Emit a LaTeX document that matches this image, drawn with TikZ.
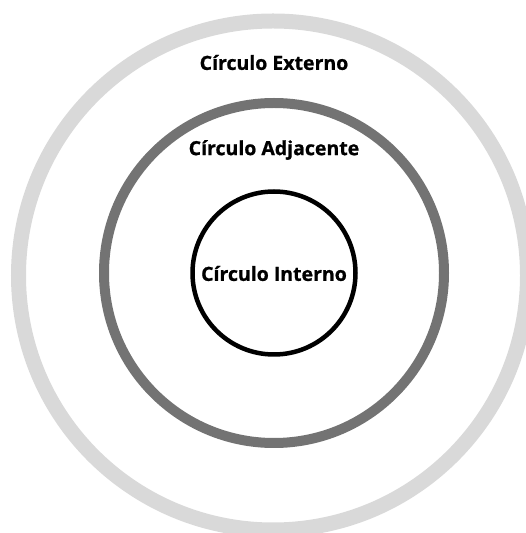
\documentclass[tikz,border=0pt]{standalone}
\usepackage{fontspec}
\setmainfont{Open Sans}
\newfontfamily\heavyfont[BoldFeatures={FakeBold=0.9}]{Open Sans}
\definecolor{ringlight}{HTML}{D9D9D9}
\definecolor{ringdark}{HTML}{737373}
\tikzset{label/.style={font=\heavyfont\bfseries\fontsize{19.5}{23}\selectfont}}
\begin{document}
\begin{tikzpicture}[x=1pt,y=1pt]
			\useasboundingbox (0,0) rectangle (526,533) ;
			\clip (0,0) rectangle (526,533) ;
			\draw[ringlight, line width=15pt] (273,257.5) circle (254.5) ;
			\node[label] (externo) at (274,470.5) {Círculo Externo};
			\draw[ringdark, line width=10pt] (274,260) circle (170) ;
			\node[label] (adjacente) at (274,383) {Círculo Adjacente};
			\draw[black, line width=4.5pt] (274,260) circle (81.5) ;
			\node[label] (interno) at (274,259.5) {Círculo Interno};
		\end{tikzpicture}
\end{document}
